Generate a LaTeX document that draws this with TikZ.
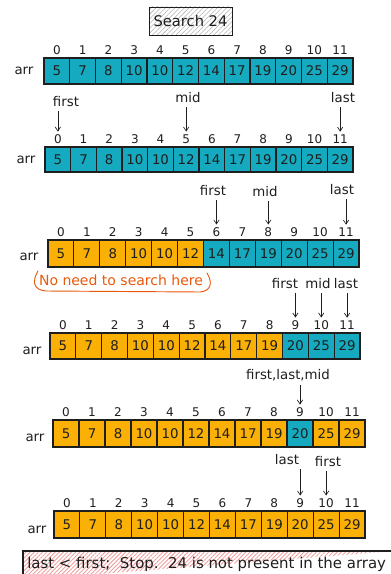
\documentclass[tikz,border=0pt]{standalone}
\usepackage{fontspec}
\setmainfont{DejaVu Sans}
\usetikzlibrary{arrows.meta,patterns.meta}
\definecolor{tealc}{HTML}{15AABF}
\definecolor{orc}{HTML}{FAB005}
\definecolor{ink}{HTML}{1E1E1E}
\definecolor{ortext}{HTML}{E8590C}
\definecolor{hatchred}{HTML}{F09A9A}
\tikzset{
  cell/.style={draw=ink, line width=0.8pt, inner sep=0pt, font=\fontsize{10}{12}\selectfont, text=ink},
  idx/.style={inner sep=1pt, font=\fontsize{9}{11}\selectfont, text=ink},
  lbl/.style={inner sep=1pt, font=\fontsize{10}{12}\selectfont, text=ink},
  ptr/.style={draw=ink, line width=0.5pt, -{Straight Barb[length=3pt,width=4pt]}, shorten >=1pt, shorten <=2pt},
  boxlbl/.style={font=\fontsize{11.2}{13}\selectfont, text=ink, inner sep=0pt}
}
\newcommand\cellrow[6]{%
  \pgfmathsetmacro\cw{(#3-#2)/12}%
  \foreach \c [count=\k from 0] in {#6} {%
    \pgfmathtruncatemacro\val{{5,7,8,10,10,12,14,17,19,20,25,29}[\k]}%
    \node[cell, fill=\c, minimum width={\cw*0.75pt}, minimum height={(#5-#4)*0.75pt}] (#1c\k) at ({#2+(\k+0.5)*\cw},{(#4+#5)/2}) {\val};
    \node[idx] (#1i\k) at ({#2+(\k+0.5)*\cw},{#4-8}) {\k};
  }%
}
\begin{document}
\begin{tikzpicture}[x=0.75pt,y=-0.75pt]
\useasboundingbox (0,0) rectangle (391,574);
% title
\node[draw=ink, line width=0.7pt, minimum width=62.25pt, minimum height=21pt,
  pattern={Lines[angle=45,distance=2.5pt,line width=0.4pt]}, pattern color=black!30,
  font=\fontsize{11}{13}\selectfont, text=ink] (title) at (190.5,21) {Search 24};

% row 1
\cellrow{ra}{44}{353}{58}{84}{tealc,tealc,tealc,tealc,tealc,tealc,tealc,tealc,tealc,tealc,tealc,tealc}
\node[lbl] (arra) at (24,71) {arr};

% row 2
\cellrow{rb}{45}{353}{147}{172}{tealc,tealc,tealc,tealc,tealc,tealc,tealc,tealc,tealc,tealc,tealc,tealc}
\node[lbl] (arrb) at (26,160) {arr};
\node[lbl] (bf) at (66,102) {first};
\node[lbl] (bm) at (188,98) {mid};
\node[lbl] (bl) at (343,98) {last};
\draw[ptr] (bf.south -| rbi0) -- (rbi0.north);
\draw[ptr] (bm.south -| rbi5) -- (rbi5.north);
\draw[ptr] (bl.south -| rbi11) -- (rbi11.north);

% row 3
\cellrow{rc}{48}{359}{240}{267}{orc,orc,orc,orc,orc,orc,tealc,tealc,tealc,tealc,tealc,tealc}
\node[lbl] (arrc) at (29,257) {arr};
\node[lbl] (cf) at (213,191) {first};
\node[lbl] (cm) at (265,192) {mid};
\node[lbl] (cl) at (342,190) {last};
\draw[ptr] (cf.south -| rci6) -- (rci6.north);
\draw[ptr] (cm.south -| rci8) -- (rci8.north);
\draw[ptr] (cl.south -| rci11) -- (rci11.north);
\node[lbl, text=ortext, font=\fontsize{10.5}{12}\selectfont] (noneed) at (121,280) {No need to search here};
\draw[ortext, line width=0.7pt, line cap=round]
  (38,271) .. controls (32,281) and (33,290) .. (46,291)
  -- (200,292) .. controls (211,291) and (213,283) .. (207,273);

% row 4
\cellrow{rd}{50}{360}{333}{359}{orc,orc,orc,orc,orc,orc,orc,orc,orc,tealc,tealc,tealc}
\node[lbl] (arrd) at (32,351) {arr};
\node[lbl] (df) at (285,284) {first};
\node[lbl] (dm) at (318,284) {mid};
\node[lbl] (dl) at (346,284) {last};
\draw[ptr] (df.south -| rdi9) -- (rdi9.north);
\draw[ptr] (dm.south -| rdi10) -- (rdi10.north);
\draw[ptr] (dl.south -| rdi11) -- (rdi11.north);

% row 5
\cellrow{re}{53}{365}{420}{447}{orc,orc,orc,orc,orc,orc,orc,orc,orc,tealc,orc,orc}
\node[lbl] (arre) at (35,438) {arr};
\node[lbl] (ef) at (288,375) {first,last,mid};
\draw[ptr] (ef.south -| rei9) -- (rei9.north);

% row 6
\cellrow{rf}{54}{365}{511}{538}{orc,orc,orc,orc,orc,orc,orc,orc,orc,orc,orc,orc}
\node[lbl] (arrf) at (37,530) {arr};
\node[lbl] (fl) at (287,460) {last};
\node[lbl] (ff) at (328,462) {first};
\draw[ptr] (fl.south -| rfi9) -- (rfi9.north);
\draw[ptr] (ff.south -| rfi10) -- (rfi10.north);

% bottom message
\path[draw=ink, line width=0.8pt, pattern={Lines[angle=45,distance=2.2pt,line width=0.6pt]}, pattern color=hatchred]
  (395,551) coordinate (bb1) -- (23,551) coordinate (bb2) -- (23,580) coordinate (bb3);
\node[boxlbl, anchor=west] (msg) at (27,564) {last < first;\ \ Stop.\ \ 24 is not present in the array};
\end{tikzpicture}
\end{document}
